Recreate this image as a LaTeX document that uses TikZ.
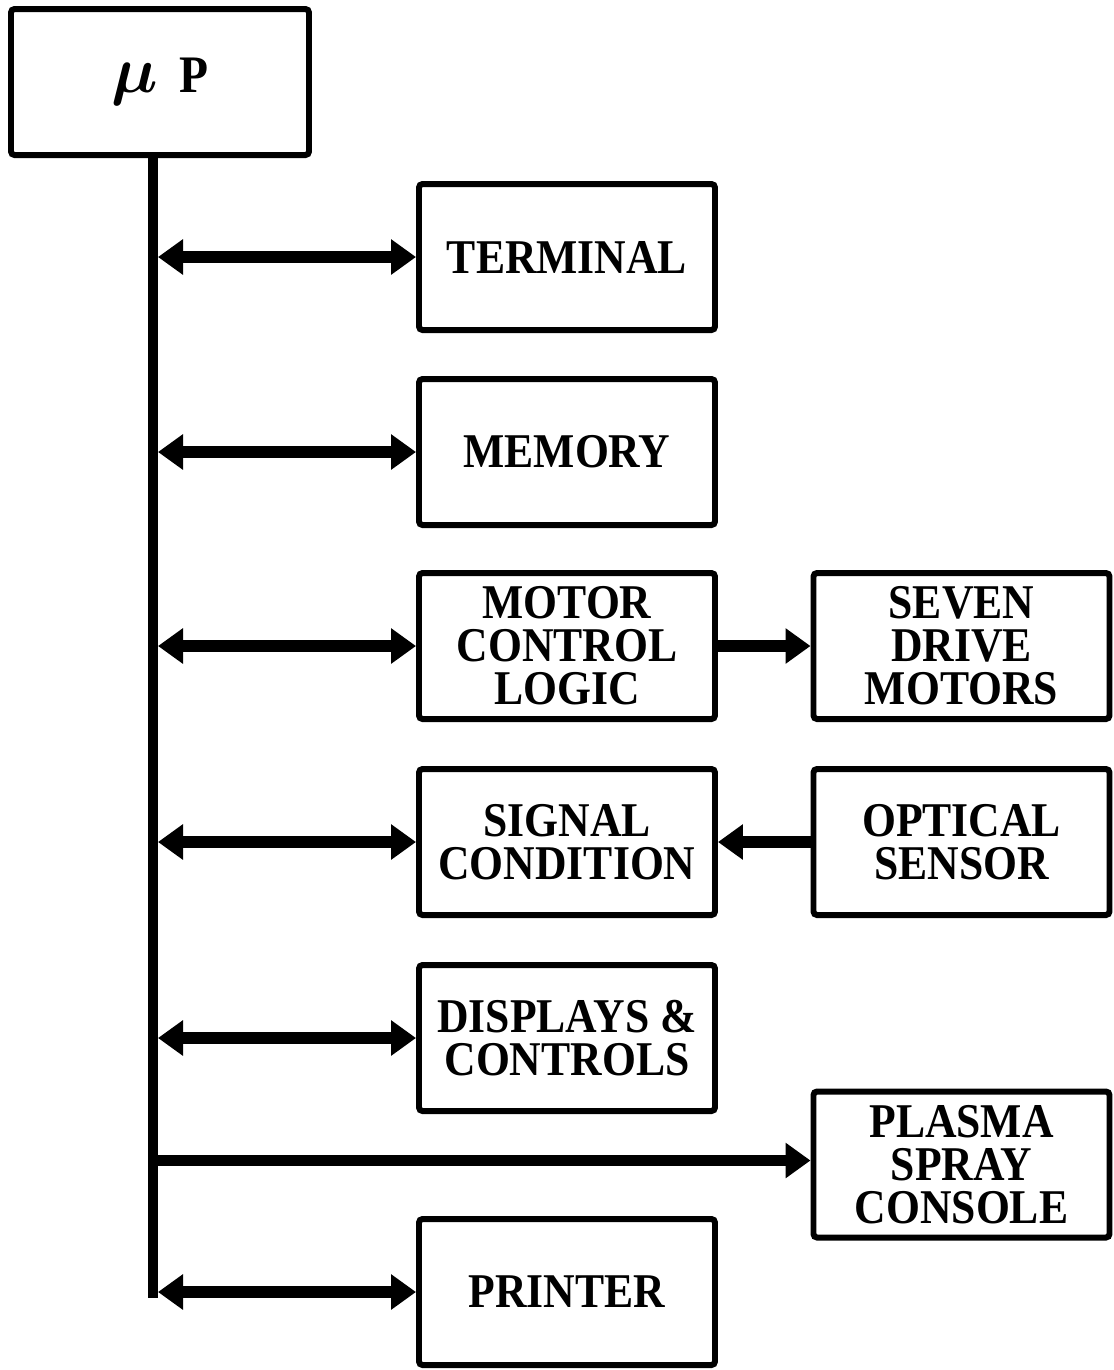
\documentclass[tikz,border=0pt]{standalone}
\usepackage{amsmath}
\usepackage{amssymb}
\usepackage{fontspec}
\setmainfont{Liberation Serif}[FakeStretch=0.9]
\usepackage{tikz}
\usetikzlibrary{arrows.meta, positioning, calc}
\tikzset{
    blockbox/.style={rectangle, draw=black, line width=1.7pt, rounded corners=1pt,
                     fill=white, align=center, inner sep=2pt,
                     minimum width=2.96cm, minimum height=1.46cm,
                     font=\fontsize{13.8pt}{12.2pt}\selectfont\bfseries},
    busline/.style={draw=black, line width=2.9pt},
    duplex/.style={{Triangle[length=0.25cm, width=0.34cm]}-{Triangle[length=0.25cm, width=0.34cm]},
                   line width=3.4pt, draw=black},
    simplex/.style={-{Triangle[length=0.25cm, width=0.34cm]}, line width=3.4pt, draw=black},
}
\begin{document}
\begin{tikzpicture}
    \useasboundingbox (0,0) rectangle (11.13,-13.70);
    % processor and bus
    \node[blockbox, minimum width=2.98cm, font=\fontsize{15pt}{15pt}\selectfont\bfseries] (mup) at (1.60,-0.82)
        {\scalebox{1.3}{$\boldsymbol{\mu}$}\hspace{0.4em}P};
    \coordinate (bustop) at (1.53,-1.57);
    \coordinate (busend) at (1.53,-12.98);
    \coordinate (busx) at (1.58,0);
    % left column
    \node[blockbox] (term)  at (5.67,-2.57)  {TERMINAL};
    \node[blockbox] (mem)   at (5.67,-4.52)  {MEMORY};
    \node[blockbox] (motor) at (5.67,-6.46)  {MOTOR\\CONTROL\\LOGIC};
    \node[blockbox] (sig)   at (5.67,-8.42)  {SIGNAL\\CONDITION};
    \node[blockbox] (disp)  at (5.67,-10.38) {DISPLAYS \&\\CONTROLS};
    \node[blockbox] (prn)   at (5.67,-12.92) {PRINTER};
    % right column
    \node[blockbox] (seven)  at (9.615,-6.46)  {SEVEN\\DRIVE\\MOTORS};
    \node[blockbox] (optic)  at (9.615,-8.42)  {OPTICAL\\SENSOR};
    \node[blockbox] (plasma) at (9.615,-11.645) {PLASMA\\SPRAY\\CONSOLE};
    \draw[busline] (bustop) -- (busend);
    \draw[duplex] (busx |- term.west) -- (term.west);
    \draw[duplex] (busx |- mem.west) -- (mem.west);
    \draw[duplex] (busx |- motor.west) -- (motor.west);
    \draw[duplex] (busx |- sig.west) -- (sig.west);
    \draw[duplex] (busx |- disp.west) -- (disp.west);
    \draw[duplex] (busx |- prn.west) -- (prn.west);
    \draw[simplex] ([yshift=0.04cm]bustop |- plasma.west) -- ([yshift=0.04cm]plasma.west);
    \draw[simplex] (motor.east) -- (seven.west);
    \draw[simplex] (optic.west) -- (sig.east);
\end{tikzpicture}
\end{document}
